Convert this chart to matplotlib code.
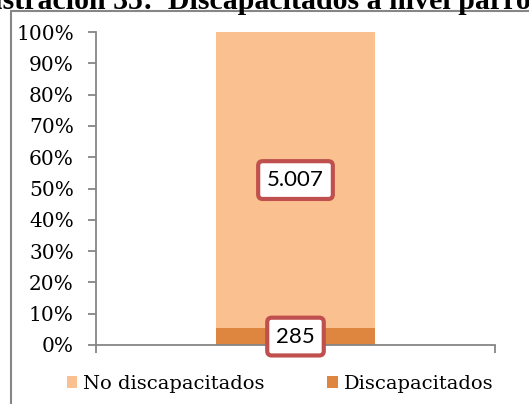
import matplotlib.pyplot as plt
from matplotlib.patches import Rectangle

categories = [""]
no_disc = [5007]
disc = [285]
series_names = ["No discapacitados", "Discapacitados"]
colors = ["#FAC090", "#DE8540"]
yticks = [0, 10, 20, 30, 40, 50, 60, 70, 80, 90, 100]
title = "Ilustración 35:  Discapacitados a nivel parroquial"

W, H = 529, 404
fig = plt.figure(figsize=(W / 100, H / 100), dpi=100)
plt.rcParams['font.family'] = ['DejaVu Serif']

# axes in pixel coordinates
left, right, top, bottom = 96, 495, 32, 345
ax = fig.add_axes([left / W, 1 - bottom / H, (right - left) / W, (bottom - top) / H])

total = [a + b for a, b in zip(no_disc, disc)]
p_disc = [100 * b / t for b, t in zip(disc, total)]
p_no = [100 * a / t for a, t in zip(no_disc, total)]

x = range(len(categories))
ax.bar(x, p_disc, width=0.4, color=colors[1], label=series_names[1])
ax.bar(x, p_no, width=0.4, bottom=p_disc, color=colors[0], label=series_names[0])

box = dict(boxstyle="round,pad=0.4,rounding_size=0.2", fc="white", ec="#C0504D", lw=3)
for i in x:
    ax.text(i, p_disc[i] + p_no[i] / 2, f"{no_disc[i]:,}".replace(",", "."),
            ha="center", va="center", fontsize=16, family="Lato", bbox=box)
    ax.text(i, p_disc[i] / 2, f"{disc[i]}", ha="center", va="center",
            fontsize=16, family="Lato", bbox=box)

ax.set_xlim(-0.5, 0.5)
ax.set_ylim(0, 100)
ax.set_yticks(yticks)
ax.set_yticklabels([f"{t}%" for t in yticks], fontsize=14.5)
ax.set_xticks([-0.5, 0.5])
ax.set_xticklabels(["", ""])
for s in ["top", "right"]:
    ax.spines[s].set_visible(False)
for s in ["left", "bottom"]:
    ax.spines[s].set_color("#868686")
    ax.spines[s].set_linewidth(1.3)
ax.tick_params(axis="both", colors="#868686", length=6, width=1.3, labelcolor="black")
ax.tick_params(axis="y", pad=10)

h, l = ax.get_legend_handles_labels()
fig.legend(h[::-1], l[::-1], loc="center", bbox_to_anchor=(280 / W, 1 - 384 / H),
           ncol=2, frameon=False, fontsize=14, handlelength=0.55, handleheight=0.55,
           columnspacing=3.2, handletextpad=0.3)

# outer chart frame (cropped)
fig.patches.append(Rectangle((11 / W, -0.1), 1.2, 1 - 11 / H + 0.1, transform=fig.transFigure,
                             fill=False, ec="#868686", lw=1.5))

# title clipped at the top; place so that "Discapacitados" starts near x=168
fs = 21.5
t = fig.text(0, 1 - 9 / H, title, ha="left", va="baseline", fontsize=fs,
             fontweight="bold", family="Liberation Serif")
fig.canvas.draw()
r = fig.canvas.get_renderer()
pre = fig.text(0, 0, "Ilustración 35:  ", fontsize=fs, fontweight="bold",
               family="Liberation Serif")
pw = pre.get_window_extent(r).width
pre.remove()
t.set_x((168 - pw) / W)

fig.savefig("out.png", dpi=100)
